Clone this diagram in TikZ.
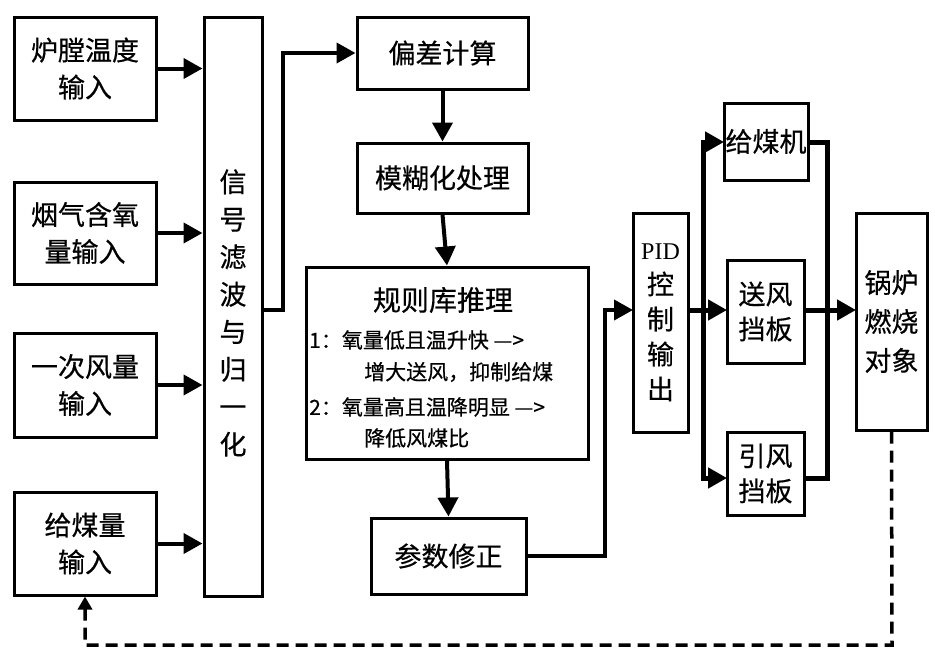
\documentclass[tikz,border=0pt]{standalone}
\usepackage{fontspec}
\setmainfont{Noto Sans CJK SC}[FakeBold=0.5]
\newfontfamily\pidserif{Liberation Serif}
\usetikzlibrary{arrows.meta}
\begin{document}
\begin{tikzpicture}[x=1pt,y=-1pt,
  blk/.style={draw,line width=3pt,inner sep=0pt,align=center,font=\fontsize{27pt}{37pt}\selectfont},
  arr/.style={line width=4pt,-{Triangle[length=19pt,width=20pt]}},
  barr/.style={line width=5pt,-{Triangle[length=19pt,width=20pt]}},
  bus/.style={line width=5pt},
  fb/.style={line width=3.5pt,dash pattern=on 12pt off 7pt,-{Triangle[length=13pt,width=14pt]}},
  rtxt/.style={inner sep=0pt,font=\fontsize{21pt}{26pt}\selectfont}]
\useasboundingbox[fill=white] (0,0) rectangle (935,656);
% inputs
\node[blk,minimum width=142pt,minimum height=103pt] (b1) at (85,68.5) {炉膛温度\\输入};
\node[blk,minimum width=142pt,minimum height=102pt] (b2) at (85,233) {烟气含氧\\量输入};
\node[blk,minimum width=142pt,minimum height=104pt] (b3) at (85,385) {一次风量\\输入};
\node[blk,minimum width=142pt,minimum height=103pt] (b4) at (85,543.5) {给煤量\\输入};
% filter
\node[blk,minimum width=58pt,minimum height=579pt] (flt) at (233,306.5) {};
\node[inner sep=0pt,align=center,font=\fontsize{27pt}{37.5pt}\selectfont] (fltt) at (233,313) {信\\号\\滤\\波\\与\\归\\一\\化};
% middle column
\node[blk,minimum width=171pt,minimum height=72pt] (dev) at (442.5,53) {偏差计算};
\node[blk,minimum width=171pt,minimum height=70pt] (fuz) at (442.5,178) {模糊化处理};
\node[blk,minimum width=282pt,minimum height=192pt] (rule) at (447,363) {};
\node[inner sep=0pt,font=\fontsize{28pt}{34pt}\selectfont] (rt) at (443,300) {规则库推理};
\node[rtxt,anchor=west] (r1) at (309,340) {1：氧量低且温升快 —>};
\node[rtxt,anchor=west] (r2) at (364,372) {增大送风，抑制给煤};
\node[rtxt,anchor=west] (r3) at (309,407) {2：氧量高且温降明显 —>};
\node[rtxt,anchor=west] (r4) at (364,438) {降低风煤比};
\node[blk,minimum width=155pt,minimum height=76pt] (par) at (448.5,556) {参数修正};
% PID
\node[blk,minimum width=55pt,minimum height=219pt,font=\fontsize{27pt}{35pt}\selectfont] (pid) at (660.5,322.5) {{\pidserif\fontsize{24pt}{30pt}\selectfont PID}\\控\\制\\输\\出};
% actuators
\node[blk,minimum width=84pt,minimum height=77pt] (gm) at (766,141.5) {给煤机};
\node[blk,minimum width=77pt,minimum height=103pt,font=\fontsize{27pt}{35pt}\selectfont] (sf) at (765.5,311.5) {送风\\挡板};
\node[blk,minimum width=77pt,minimum height=83pt,font=\fontsize{27pt}{35pt}\selectfont] (yf) at (765.5,473.5) {引风\\挡板};
\node[blk,minimum width=71pt,minimum height=217pt,font=\fontsize{27pt}{39pt}\selectfont] (blr) at (891.5,321.5) {锅炉\\燃烧\\对象};
% coordinates
\coordinate (fout) at (262,310);
\coordinate (pidin) at (633,310);
\coordinate (pidout) at (688,310);
\coordinate (busl) at (703,310);
\coordinate (gin) at (724,142);
\coordinate (yin) at (727,478);
\coordinate (sin) at (727,310);
\coordinate (gout) at (808,142);
\coordinate (sout) at (804,310);
\coordinate (yout) at (804,478);
\coordinate (blin) at (856,310);
\coordinate (fbk) at (892,645);
% connectors
\foreach \b in {b1,b2,b3,b4} \draw[arr] (\b.east) -- (\b.east -| flt.west);
\draw[arr] (fout) -- (283,310) |- (dev.west);
\draw[arr] (dev.south) -- (fuz.north);
\draw[arr] (fuz.south) -- (rule.north);
\draw[arr] (rule.south) -- (par.north);
\draw[arr] (par.east) -- (605,556) |- (pidin);
\draw[bus] (pidout) -- (busl);
\draw[barr] (busl) |- (gin);
\draw[barr] (busl) |- (yin);
\draw[barr] (busl) -- (sin);
\draw[bus] (gout) -| (827,310);
\draw[bus] (yout) -| (827,310);
\draw[barr] (sout) -- (blin);
\draw[fb] (blr.south) -- (fbk) -| (b4.south);
\end{tikzpicture}
\end{document}
